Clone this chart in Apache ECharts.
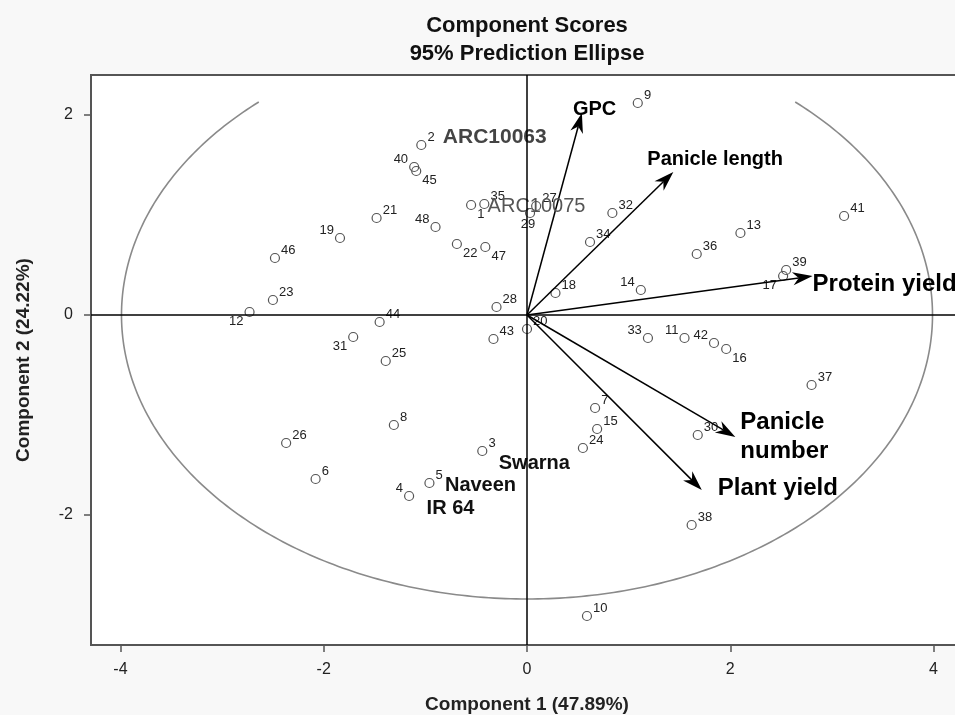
<!DOCTYPE html>
<html>
<head>
<meta charset="utf-8">
<script src="https://cdn.jsdelivr.net/npm/echarts@6/dist/echarts.min.js"></script>
<style>
html,body{margin:0;padding:0;background:#f8f8f8;}
#chart{width:955px;height:715px;}
</style>
</head>
<body>
<div id="chart"></div>
<script>
// ---------- data ----------
const pointIds = [1,2,3,4,5,6,7,8,9,10,11,12,13,14,15,16,17,18,19,20,21,22,23,24,25,26,27,28,29,30,31,32,33,34,35,36,37,38,39,40,41,42,43,44,45,46,47,48];
const pointX = [-0.55,-1.04,-0.44,-1.16,-0.96,-2.08,0.67,-1.31,1.09,0.59,1.55,-2.73,2.10,1.12,0.69,1.96,2.52,0.28,-1.84,0.00,-1.48,-0.69,-2.50,0.55,-1.39,-2.37,0.09,-0.30,0.03,1.68,-1.71,0.84,1.19,0.62,-0.42,1.67,2.80,1.62,2.55,-1.11,3.12,1.84,-0.33,-1.45,-1.09,-2.48,-0.41,-0.90];
const pointY = [1.10,1.70,-1.36,-1.81,-1.68,-1.64,-0.93,-1.10,2.12,-3.01,-0.23,0.03,0.82,0.25,-1.14,-0.34,0.39,0.22,0.77,-0.14,0.97,0.71,0.15,-1.33,-0.46,-1.28,1.09,0.08,1.02,-1.20,-0.22,1.02,-0.23,0.73,1.11,0.61,-0.70,-2.10,0.45,1.48,0.99,-0.28,-0.24,-0.07,1.44,0.57,0.68,0.88];

const varietyPoints = [2, 1, 3, 5, 4];
const varietyNames = ['ARC10063', 'ARC10075', 'Swarna', 'Naveen', 'IR 64'];

const vectorNames = ['GPC', 'Panicle length', 'Protein yield', 'Panicle\nnumber', 'Plant yield'];
const vectorX = [0.54, 1.44, 2.81, 2.05, 1.72];
const vectorY = [2.02, 1.43, 0.39, -1.22, -1.75];

const xTicks = [-4, -2, 0, 2, 4];
const yTicks = [-2, 0, 2];

const ellipseRadii = [3.99, 2.84];
const ellipseClipTop = 2.13;

// ---------- styles ----------
const FONT = '"Liberation Sans", Arial, sans-serif';
const labelPlacement = {40:'ul',48:'ul',19:'ul',4:'ul',14:'ul',33:'ul',11:'ul',42:'ul',
  45:'lr',1:'lr',22:'lr',47:'lr',16:'lr',12:'ll',31:'ll',17:'ll',29:'b'};
const placeStyle = {
  ur:{position:'right', distance:1, offset:[0,-8]},
  ul:{position:'left', distance:1, offset:[0,-8]},
  lr:{position:'right', distance:1, offset:[0,9]},
  ll:{position:'left', distance:1, offset:[0,9]},
  b:{position:'bottom', distance:0, offset:[-2,0]}
};
const varietyStyle = [
  {dx:21, dy:-8, weight:'bold', size:21, color:'#444'},
  {dx:16, dy:1, weight:'normal', size:20, color:'#555'},
  {dx:16, dy:12, weight:'bold', size:20, color:'#111'},
  {dx:15, dy:2, weight:'bold', size:20, color:'#111'},
  {dx:17, dy:12, weight:'bold', size:20, color:'#111'}
];
const vectorLabelStyle = [
  {dx:-9, dy:-4, size:20},
  {dx:-26, dy:-13, size:20},
  {dx:0, dy:8, size:24},
  {dx:5, dy:0, size:24},
  {dx:16, dy:-2, size:24}
];

// ---------- build ----------
const pointData = pointIds.map((id, i) => {
  const pl = placeStyle[labelPlacement[id] || 'ur'];
  return {name: String(id), value: [pointX[i], pointY[i]], label: Object.assign({}, pl)};
});

const varietyData = varietyPoints.map((id, i) => {
  const idx = pointIds.indexOf(id);
  const st = varietyStyle[i];
  return {
    name: varietyNames[i],
    value: [pointX[idx], pointY[idx]],
    label: {position:'right', distance:0, offset:[st.dx, st.dy], fontSize:st.size,
            fontWeight:st.weight, color:st.color}
  };
});

const vectorData = vectorNames.map((n, i) => [vectorX[i], vectorY[i], i]);

function renderVector(params, api) {
  const i = api.value(2);
  const o = api.coord([0, 0]);
  const t = api.coord([api.value(0), api.value(1)]);
  const ang = Math.atan2(t[1] - o[1], t[0] - o[0]);
  const c = Math.cos(ang), s = Math.sin(ang);
  const L = 20, W = 6.5, N = 0.7;
  const tr = (lx, ly) => [t[0] + lx * c - ly * s, t[1] + lx * s + ly * c];
  const st = vectorLabelStyle[i];
  return {
    type: 'group',
    children: [
      {type:'line', shape:{x1:o[0], y1:o[1], x2:tr(-L*N,0)[0], y2:tr(-L*N,0)[1]},
       style:{stroke:'#000', lineWidth:1.5}},
      {type:'polygon', shape:{points:[tr(0,0), tr(-L,-W), tr(-L*N,0), tr(-L,W)]},
       style:{fill:'#000'}},
      {type:'text', x: t[0] + st.dx, y: t[1] + st.dy,
       style:{text: vectorNames[i], fill:'#000', align:'left', verticalAlign:'middle',
              font: 'bold ' + st.size + 'px ' + FONT, lineHeight: 29}}
    ]
  };
}

function renderEllipse(params, api) {
  const a = ellipseRadii[0], b = ellipseRadii[1];
  const t0 = Math.PI - Math.asin(ellipseClipTop / b);
  const t1 = 2 * Math.PI + Math.asin(ellipseClipTop / b);
  const pts = [];
  const n = 360;
  for (let k = 0; k <= n; k++) {
    const t = t0 + (t1 - t0) * k / n;
    pts.push(api.coord([a * Math.cos(t), b * Math.sin(t)]));
  }
  return {type:'polyline', shape:{points:pts}, style:{stroke:'#8a8a8a', lineWidth:1.6, fill:null}};
}

const chart = echarts.init(document.getElementById('chart'));
chart.setOption({
  animation: false,
  backgroundColor: '#f8f8f8',
  textStyle: {fontFamily: FONT},
  graphic: [
    {type:'text', x:527, y:26, style:{text:'Component Scores', align:'center', verticalAlign:'middle',
      font:'bold 22px ' + FONT, fill:'#111'}},
    {type:'text', x:527, y:54, style:{text:'95% Prediction Ellipse', align:'center', verticalAlign:'middle',
      font:'bold 22px ' + FONT, fill:'#111'}}
  ],
  grid: {left:91, width:872, top:75, height:570, show:true, backgroundColor:'#ffffff',
         borderColor:'#555', borderWidth:2, outerBoundsMode:'none', containLabel:false},
  xAxis: {
    type:'value', min:-4.29, max:4.29,
    axisLine:{show:false, onZero:false}, splitLine:{show:false},
    axisTick:{show:true, customValues:xTicks, length:7, lineStyle:{color:'#555', width:1.5}},
    axisLabel:{show:true, customValues:xTicks, fontSize:16, color:'#222', margin:17},
    name:'Component 1 (47.89%)', nameLocation:'middle', nameGap:50,
    nameTextStyle:{fontSize:19, fontWeight:'bold', color:'#222'}
  },
  yAxis: {
    type:'value', min:-3.3, max:2.4,
    axisLine:{show:false, onZero:false}, splitLine:{show:false},
    axisTick:{show:true, customValues:yTicks, length:7, lineStyle:{color:'#555', width:1.5}},
    axisLabel:{show:true, customValues:yTicks, fontSize:16, color:'#222', margin:18},
    name:'Component 2 (24.22%)', nameLocation:'middle', nameGap:58,
    nameTextStyle:{fontSize:19, fontWeight:'bold', color:'#222'}
  },
  series: [
    {type:'custom', renderItem: renderEllipse, data:[[0,0]], z:1, silent:true},
    {
      type:'scatter', data: pointData, symbol:'circle', symbolSize:9, z:2,
      itemStyle:{color:'rgba(255,255,255,0)', borderColor:'#555', borderWidth:1.2, opacity:1},
      label:{show:true, formatter:'{b}', fontSize:13, color:'#222'},
      markLine:{silent:true, symbol:['none','none'], label:{show:false},
        lineStyle:{color:'#000', width:1.5, type:'solid'},
        data:[{xAxis:0},{yAxis:0}]}
    },
    {type:'custom', renderItem: renderVector, data: vectorData, z:3, silent:true},
    {
      type:'scatter', data: varietyData, symbolSize:1, z:4,
      itemStyle:{color:'rgba(0,0,0,0)', opacity:1},
      label:{show:true, formatter:'{b}'}
    }
  ]
});
</script>
</body>
</html>
